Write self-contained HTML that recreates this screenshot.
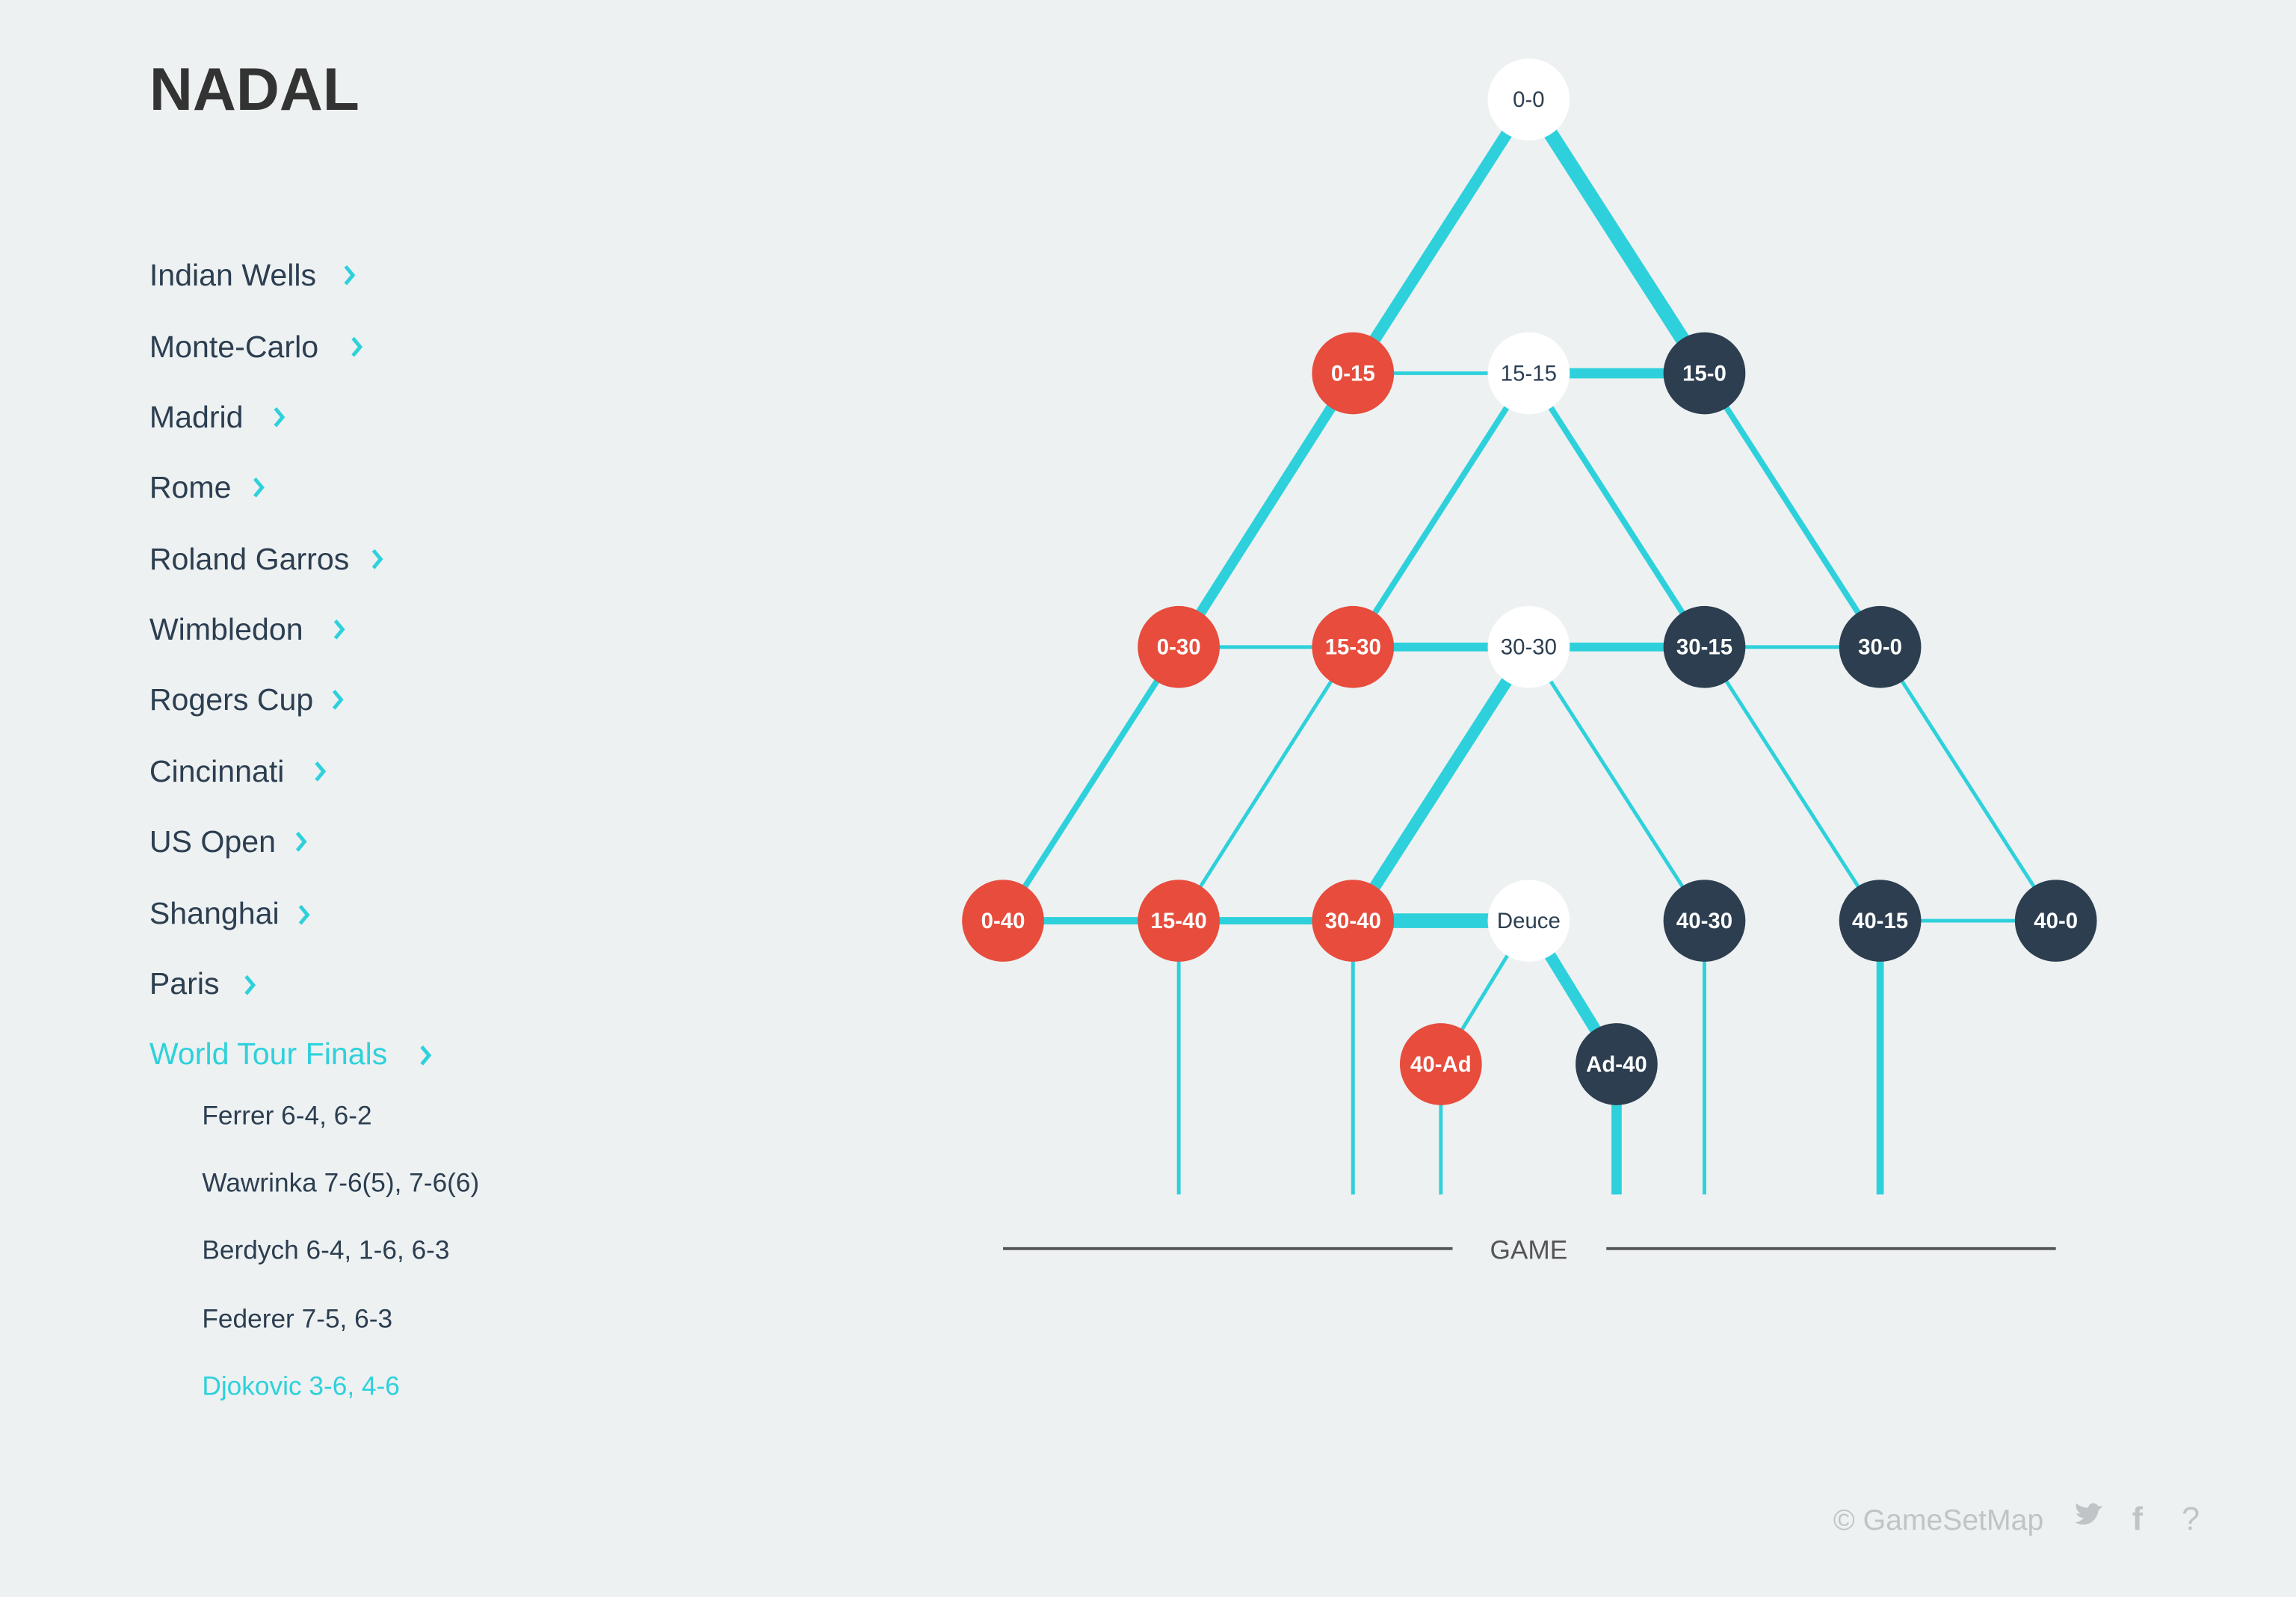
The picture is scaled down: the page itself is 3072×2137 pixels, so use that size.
<!DOCTYPE html>
<html><head><meta charset="utf-8"><style>
html,body{margin:0;padding:0;background:#edf1f2;}
svg{display:block;}
text{font-family:"Liberation Sans",sans-serif;}
</style></head><body>
<svg width="3072" height="2137" viewBox="0 0 1568 1091" preserveAspectRatio="none" xmlns="http://www.w3.org/2000/svg">
<rect width="1568" height="1091" fill="#edf1f2"/>
<text x="102" y="75" font-size="41" font-weight="bold" fill="#333">NADAL</text>
<g font-size="21" fill="#2c3e50">
<text x="102" y="195">Indian Wells</text>
<text x="102" y="244">Monte-Carlo</text>
<text x="102" y="292">Madrid</text>
<text x="102" y="340">Rome</text>
<text x="102" y="389">Roland Garros</text>
<text x="102" y="437">Wimbledon</text>
<text x="102" y="485">Rogers Cup</text>
<text x="102" y="534">Cincinnati</text>
<text x="102" y="582">US Open</text>
<text x="102" y="631">Shanghai</text>
<text x="102" y="679">Paris</text>
<text x="102" y="727" fill="#2ed1db">World Tour Finals</text>
</g>
<g stroke="#2ed1db" stroke-width="2.5" fill="none">
<polyline points="236,182 241,188 236,194"/>
<polyline points="241,231 246,237 241,243"/>
<polyline points="188,279 193,285 188,291"/>
<polyline points="174,327 179,333 174,339"/>
<polyline points="255,376 260,382 255,388"/>
<polyline points="229,424 234,430 229,436"/>
<polyline points="228,472 233,478 228,484"/>
<polyline points="216,521 221,527 216,533"/>
<polyline points="203,569 208,575 203,581"/>
<polyline points="205,619 210,625 205,631"/>
<polyline points="168,667 173,673 168,679"/>
<polyline points="288,715 293,721 288,727"/>
</g>
<g font-size="18" fill="#2c3e50">
<text x="138" y="768">Ferrer 6-4, 6-2</text>
<text x="138" y="814">Wawrinka 7-6(5), 7-6(6)</text>
<text x="138" y="860">Berdych 6-4, 1-6, 6-3</text>
<text x="138" y="907">Federer 7-5, 6-3</text>
<text x="138" y="953" fill="#2ed1db">Djokovic 3-6, 4-6</text>
</g>
<g stroke="#2ed1db" stroke-linecap="butt">
<line x1="1044" y1="68" x2="924" y2="255" stroke-width="8"/>
<line x1="1044" y1="68" x2="1164" y2="255" stroke-width="10"/>
<line x1="924" y1="255" x2="1044" y2="255" stroke-width="2.5"/>
<line x1="1044" y1="255" x2="1164" y2="255" stroke-width="7"/>
<line x1="924" y1="255" x2="805" y2="442" stroke-width="7"/>
<line x1="1044" y1="255" x2="924" y2="442" stroke-width="4"/>
<line x1="1044" y1="255" x2="1164" y2="442" stroke-width="4"/>
<line x1="1164" y1="255" x2="1284" y2="442" stroke-width="4"/>
<line x1="805" y1="442" x2="924" y2="442" stroke-width="2.5"/>
<line x1="924" y1="442" x2="1044" y2="442" stroke-width="6"/>
<line x1="1044" y1="442" x2="1164" y2="442" stroke-width="6"/>
<line x1="1164" y1="442" x2="1284" y2="442" stroke-width="2.5"/>
<line x1="805" y1="442" x2="685" y2="629" stroke-width="4"/>
<line x1="924" y1="442" x2="805" y2="629" stroke-width="2.5"/>
<line x1="1044" y1="442" x2="924" y2="629" stroke-width="8"/>
<line x1="1044" y1="442" x2="1164" y2="629" stroke-width="2.5"/>
<line x1="1164" y1="442" x2="1284" y2="629" stroke-width="2.5"/>
<line x1="1284" y1="442" x2="1404" y2="629" stroke-width="2.5"/>
<line x1="685" y1="629" x2="805" y2="629" stroke-width="5"/>
<line x1="805" y1="629" x2="924" y2="629" stroke-width="5"/>
<line x1="924" y1="629" x2="1044" y2="629" stroke-width="10"/>
<line x1="1284" y1="629" x2="1404" y2="629" stroke-width="2.5"/>
<line x1="1044" y1="629" x2="984" y2="727" stroke-width="2.5"/>
<line x1="1044" y1="629" x2="1104" y2="727" stroke-width="8"/>
<line x1="805" y1="629" x2="805" y2="816" stroke-width="2.5"/>
<line x1="924" y1="629" x2="924" y2="816" stroke-width="2.5"/>
<line x1="984" y1="727" x2="984" y2="816" stroke-width="2.5"/>
<line x1="1104" y1="727" x2="1104" y2="816" stroke-width="7"/>
<line x1="1164" y1="629" x2="1164" y2="816" stroke-width="2.5"/>
<line x1="1284" y1="629" x2="1284" y2="816" stroke-width="5"/>
</g>
<g>
<circle cx="1044" cy="68" r="28" fill="#fff"/>
<circle cx="924" cy="255" r="28" fill="#e74c3c"/>
<circle cx="1044" cy="255" r="28" fill="#fff"/>
<circle cx="1164" cy="255" r="28" fill="#2c3e50"/>
<circle cx="805" cy="442" r="28" fill="#e74c3c"/>
<circle cx="924" cy="442" r="28" fill="#e74c3c"/>
<circle cx="1044" cy="442" r="28" fill="#fff"/>
<circle cx="1164" cy="442" r="28" fill="#2c3e50"/>
<circle cx="1284" cy="442" r="28" fill="#2c3e50"/>
<circle cx="685" cy="629" r="28" fill="#e74c3c"/>
<circle cx="805" cy="629" r="28" fill="#e74c3c"/>
<circle cx="924" cy="629" r="28" fill="#e74c3c"/>
<circle cx="1044" cy="629" r="28" fill="#fff"/>
<circle cx="1164" cy="629" r="28" fill="#2c3e50"/>
<circle cx="1284" cy="629" r="28" fill="#2c3e50"/>
<circle cx="1404" cy="629" r="28" fill="#2c3e50"/>
<circle cx="984" cy="727" r="28" fill="#e74c3c"/>
<circle cx="1104" cy="727" r="28" fill="#2c3e50"/>
</g>
<g font-size="15" text-anchor="middle">
<text x="1044" y="73" fill="#2c3e50">0-0</text>
<text x="1044" y="260" fill="#2c3e50">15-15</text>
<text x="1044" y="447" fill="#2c3e50">30-30</text>
<text x="1044" y="634" fill="#2c3e50">Deuce</text>
<g fill="#fff" font-weight="bold">
<text x="924" y="260">0-15</text>
<text x="1164" y="260">15-0</text>
<text x="805" y="447">0-30</text>
<text x="924" y="447">15-30</text>
<text x="1164" y="447">30-15</text>
<text x="1284" y="447">30-0</text>
<text x="685" y="634">0-40</text>
<text x="805" y="634">15-40</text>
<text x="924" y="634">30-40</text>
<text x="1164" y="634">40-30</text>
<text x="1284" y="634">40-15</text>
<text x="1404" y="634">40-0</text>
<text x="984" y="732">40-Ad</text>
<text x="1104" y="732">Ad-40</text>
</g>
</g>
<line x1="685" y1="853" x2="992" y2="853" stroke="#555" stroke-width="2"/>
<line x1="1097" y1="853" x2="1404" y2="853" stroke="#555" stroke-width="2"/>
<text x="1044" y="860" font-size="18" text-anchor="middle" fill="#555">GAME</text>
<text x="1252" y="1045" font-size="20" fill="#c0c4c6">© GameSetMap</text>
<path d="M1417,1040 C1424,1044 1432,1040 1433,1032 L1436,1029 L1433,1029 C1431,1026 1427,1026 1426,1030 C1422,1030 1419,1028 1418,1027 C1417,1030 1419,1033 1421,1034 L1418,1034 C1419,1036 1421,1037 1423,1037 C1421,1039 1419,1040 1417,1040 Z" fill="#c0c4c6"/>
<text x="1456" y="1045" font-size="22" font-weight="bold" fill="#c0c4c6">f</text>
<text x="1490" y="1045" font-size="22" fill="#c0c4c6">?</text>
</svg>
</body></html>
